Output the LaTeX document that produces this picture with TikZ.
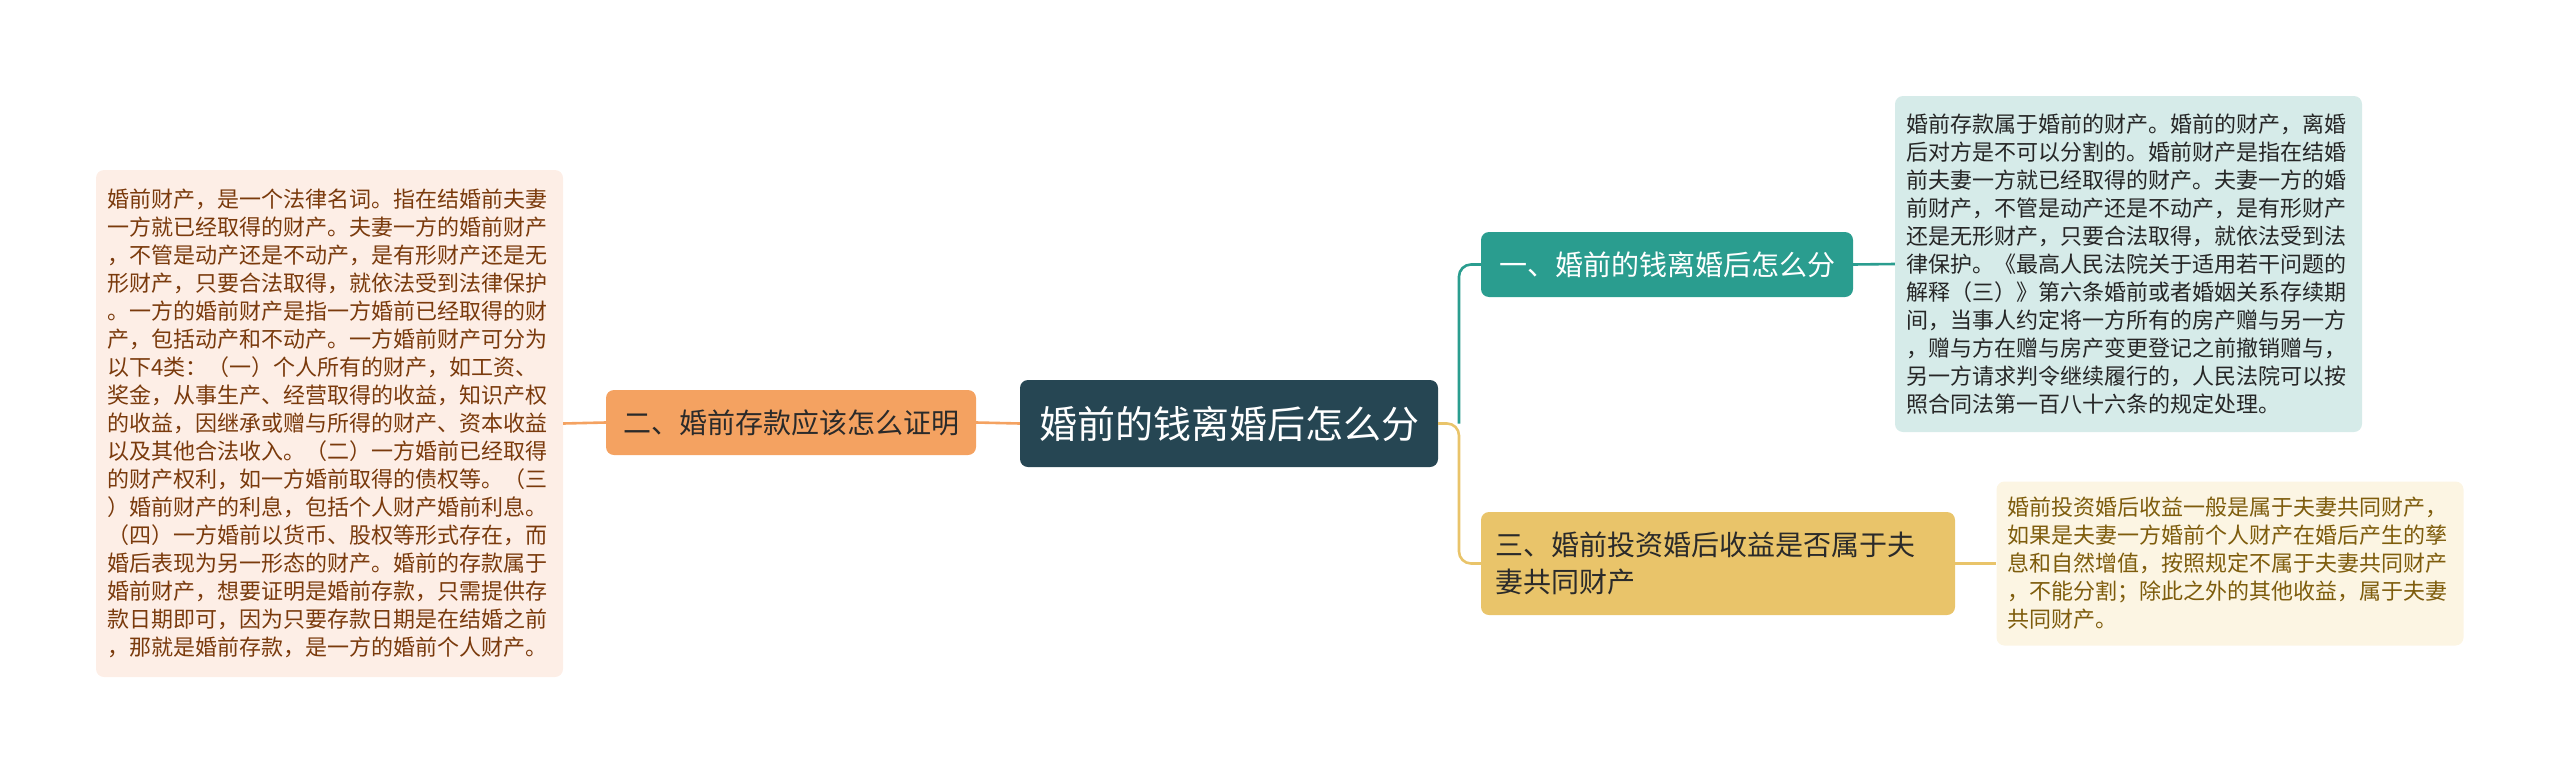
\documentclass[tikz,border=0pt]{standalone}
\usepackage{fontspec}
\setmainfont{Noto Sans CJK SC}
\definecolor{cdark}{HTML}{264653}
\definecolor{cteal}{HTML}{2A9D8F}
\definecolor{cyel}{HTML}{E9C46A}
\definecolor{corg}{HTML}{F4A261}
\definecolor{lorg}{HTML}{FDEEE6}
\definecolor{lteal}{HTML}{D6EBE9}
\definecolor{lyel}{HTML}{FCF5E3}
\definecolor{torg}{HTML}{7A3A0C}
\definecolor{tteal}{HTML}{262626}
\definecolor{tyel}{HTML}{7E5C0C}
\definecolor{tdark}{HTML}{2A2A2A}
\tikzset{
  x=1pt, y=-1pt,
  rbox/.style={rounded corners=8pt, inner sep=0pt, draw=none},
  centre/.style={rbox, fill=cdark, text=white, minimum width=418pt, minimum height=87pt, font=\fontsize{38pt}{44pt}\selectfont},
  branch/.style={rbox, minimum height=65pt, font=\fontsize{28pt}{37pt}\selectfont},
  leaf/.style={rbox, minimum width=467pt, text width=445pt, align=left, font=\fontsize{22pt}{28pt}\selectfont},
  conn/.style={line width=2.6pt},
}
\begin{document}
\begin{tikzpicture}
\useasboundingbox (0,0) rectangle (2560,774);
% central
\node[centre] (c) at (1229,423.5) {婚前的钱离婚后怎么分};
% branches
\node[branch, fill=corg, text=tdark, minimum width=370pt] (b2) at (791,422.5) {二、婚前存款应该怎么证明};
\node[branch, fill=cteal, text=white, minimum width=372pt] (b1) at (1667,264.5) {一、婚前的钱离婚后怎么分};
\node[branch, fill=cyel, text=tdark, minimum width=474pt, minimum height=103pt, text width=446pt, align=left] (b3) at (1718,563.5) {三、婚前投资婚后收益是否属于夫\\妻共同财产};
% leaves
\node[leaf, fill=lorg, text=torg, minimum height=507pt] (l2) at (329.5,423.5) {婚前财产，是一个法律名词。指在结婚前夫妻\\一方就已经取得的财产。夫妻一方的婚前财产\\，不管是动产还是不动产，是有形财产还是无\\形财产，只要合法取得，就依法受到法律保护\\。一方的婚前财产是指一方婚前已经取得的财\\产，包括动产和不动产。一方婚前财产可分为\\以下4类：（一）个人所有的财产，如工资、\\奖金，从事生产、经营取得的收益，知识产权\\的收益，因继承或赠与所得的财产、资本收益\\以及其他合法收入。（二）一方婚前已经取得\\的财产权利，如一方婚前取得的债权等。（三\\）婚前财产的利息，包括个人财产婚前利息。\\（四）一方婚前以货币、股权等形式存在，而\\婚后表现为另一形态的财产。婚前的存款属于\\婚前财产，想要证明是婚前存款，只需提供存\\款日期即可，因为只要存款日期是在结婚之前\\，那就是婚前存款，是一方的婚前个人财产。};
\node[leaf, fill=lteal, text=tteal, minimum height=336pt] (l1) at (2128.5,264) {婚前存款属于婚前的财产。婚前的财产，离婚\\后对方是不可以分割的。婚前财产是指在结婚\\前夫妻一方就已经取得的财产。夫妻一方的婚\\前财产，不管是动产还是不动产，是有形财产\\还是无形财产，只要合法取得，就依法受到法\\律保护。《最高人民法院关于适用若干问题的\\解释（三）》第六条婚前或者婚姻关系存续期\\间，当事人约定将一方所有的房产赠与另一方\\，赠与方在赠与房产变更登记之前撤销赠与，\\另一方请求判令继续履行的，人民法院可以按\\照合同法第一百八十六条的规定处理。};
\node[leaf, fill=lyel, text=tyel, minimum height=164pt] (l3) at (2230,563.5) {婚前投资婚后收益一般是属于夫妻共同财产，\\如果是夫妻一方婚前个人财产在婚后产生的孳\\息和自然增值，按照规定不属于夫妻共同财产\\，不能分割；除此之外的其他收益，属于夫妻\\共同财产。};
% connectors
\coordinate (j) at (1459,423.5);
\draw[conn, corg] (c.west) -- (b2.east);
\draw[conn, corg] (b2.west) -- (l2.east);
\draw[conn, cyel, rounded corners=12pt] (c.east) -- (j) |- (b3.west);
\draw[conn, cteal, rounded corners=12pt] (j) |- (b1.west);
\draw[conn, cteal] (b1.east) -- (l1.west);
\draw[conn, cyel] (b3.east) -- (l3.west);
\end{tikzpicture}
\end{document}
